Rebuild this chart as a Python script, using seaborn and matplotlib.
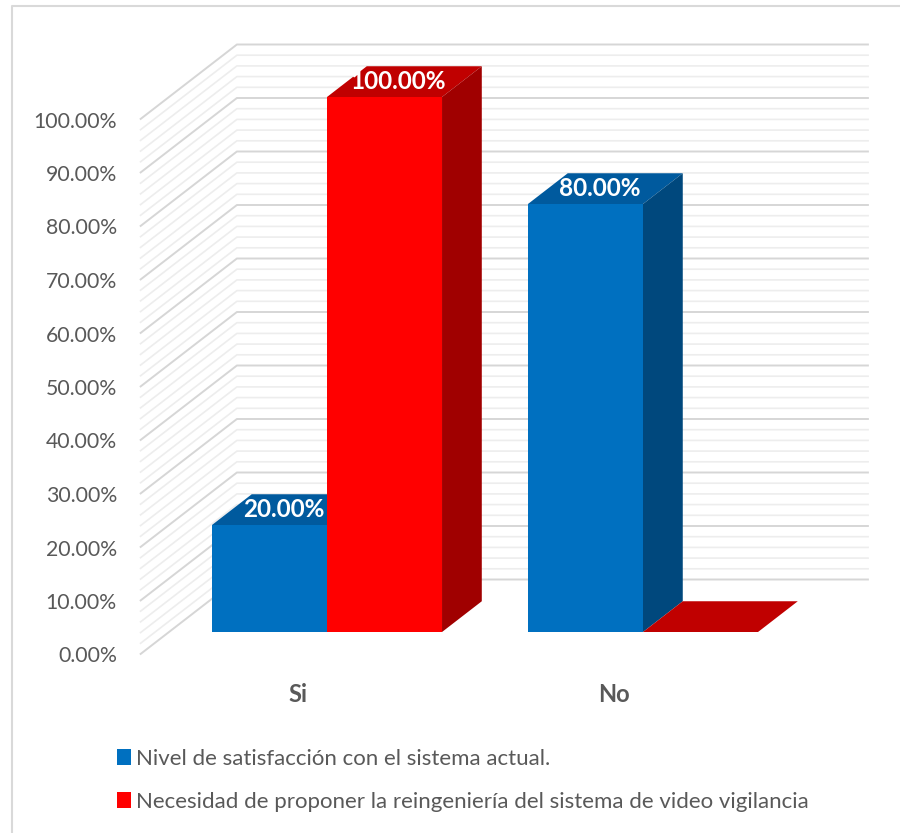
import numpy as np
import pandas as pd
import matplotlib
matplotlib.use("Agg")
import matplotlib.pyplot as plt
from matplotlib.patches import Polygon, Patch
from matplotlib.lines import Line2D
import seaborn as sns

# ---- data -------------------------------------------------------------
categorias = ["Si", "No"]
series = [
    "Nivel de satisfacción con el sistema actual.",
    "Necesidad de proponer la reingeniería del sistema de video vigilancia",
]
nivel_satisfaccion = [20.0, 80.0]
necesidad_reingenieria = [100.0, 0.0]
ticks = list(range(0, 101, 10))
tick_labels = [f"{t:.2f}%" for t in ticks]

# face colours: front, top, right side
colores_frente = ["#0070C0", "#FF0000"]
colores_arriba = ["#005A9E", "#C00000"]
colores_lado = ["#00487D", "#A00000"]
gris_texto = "#595959"

df = pd.DataFrame({
    "categoria": categorias * 2,
    "serie": [series[0]] * 2 + [series[1]] * 2,
    "valor": nivel_satisfaccion + necesidad_reingenieria,
})

sns.set_theme(style="white")
plt.rcParams["font.family"] = ["Lato", "DejaVu Sans"]

W, H = 900, 833
fig = plt.figure(figsize=(W / 100, H / 100), dpi=100)
ax = fig.add_axes([0, 0, 1, 1])

# pixel scale of the bar plane
PX_X, PX_Y = 316.0, 5.35
X0, Y0 = 327.0, 632.0

# oblique depth projection (full depth of the floor, in data units)
DX, DY = 97.0 / PX_X, 75.0 / PX_Y
D_FRONT, D_BAR, D_WALL = -0.30, 0.41, 0.70


def P(x, v, d):
    return (x + d * DX, v + d * DY)


# ---- bars (front faces) ---------------------------------------------
sns.barplot(data=df, x="categoria", y="valor", hue="serie",
            palette=colores_frente, width=0.728, saturation=1,
            legend=False, ax=ax, linewidth=0, edgecolor="none")

ax.set_xlim(-X0 / PX_X, (W - X0) / PX_X)
ax.set_ylim((Y0 - H) / PX_Y, Y0 / PX_Y)
ax.axis("off")

# ---- walls: side wall and back wall gridlines -------------------------
for v in range(0, 101, 2):
    major = v % 10 == 0
    col = "#D6D6D6" if major else "#EDEDED"
    lw = 1.4 if major else 1.2
    pts = [P(-0.5, v, D_FRONT), P(-0.5, v, D_WALL), P(1.5, v, D_WALL)]
    ax.add_line(Line2D([p[0] for p in pts], [p[1] for p in pts],
                       color=col, lw=lw, zorder=1, solid_capstyle="butt"))

# ---- top and side faces, value labels ----------------------------------
barras = []
for s, cont in enumerate(ax.containers):
    for rect in cont.patches:
        barras.append((rect.get_x(), s, rect))
barras.sort(key=lambda b: b[0])

for k, (_, s, rect) in enumerate(barras):
    x0 = rect.get_x()
    w = rect.get_width()
    h = rect.get_height()
    z = 3 + k * 0.1
    rect.set_zorder(z + 0.02)
    top = [P(x0, h, 0), P(x0 + w, h, 0), P(x0 + w, h, D_BAR), P(x0, h, D_BAR)]
    ax.add_patch(Polygon(top, closed=True, facecolor=colores_arriba[s],
                         edgecolor="none", zorder=z))
    if h > 0:
        side = [P(x0 + w, 0, 0), P(x0 + w, 0, D_BAR),
                P(x0 + w, h, D_BAR), P(x0 + w, h, 0)]
        ax.add_patch(Polygon(side, closed=True, facecolor=colores_lado[s],
                             edgecolor="none", zorder=z + 0.01))
        ax.annotate(f"{h:.2f}%", P(x0 + w / 2, h, D_BAR / 2),
                    xytext=(-6, 0), textcoords="offset pixels",
                    ha="center", va="center", color="white",
                    fontsize=17.5, fontweight="bold", zorder=10)

# ---- axis texts ---------------------------------------------------------
for t, lab in zip(ticks, tick_labels):
    ax.annotate(lab, P(-0.5, t, D_FRONT), xytext=(-23, -2),
                textcoords="offset pixels", ha="right", va="center",
                color=gris_texto, fontsize=15.3)

for i, c in enumerate(categorias):
    ax.annotate(c, P(i, 0, D_FRONT), xytext=(0, -40),
                textcoords="offset pixels", ha="center", va="center",
                color=gris_texto, fontsize=17, fontweight="bold")

# ---- legend ---------------------------------------------------------------
handles = [Patch(facecolor=colores_frente[i], edgecolor="none", label=series[i])
           for i in range(2)]
fig.legend(handles=handles, loc="upper left",
           bbox_to_anchor=(117 / W, 1 - 749 / H), frameon=False,
           fontsize=16, labelcolor=gris_texto, handlelength=0.62,
           handleheight=0.7, handletextpad=0.25, labelspacing=1.02,
           borderpad=0, borderaxespad=0)

# ---- chart area border (left and top edges) --------------------------------
fig.add_artist(Line2D([11.5 / W, 11.5 / W, 1], [0, 1 - 5.5 / H, 1 - 5.5 / H],
                      transform=fig.transFigure, color="#D9D9D9", lw=1.5))

fig.savefig("out.png", dpi=100, facecolor="white")
